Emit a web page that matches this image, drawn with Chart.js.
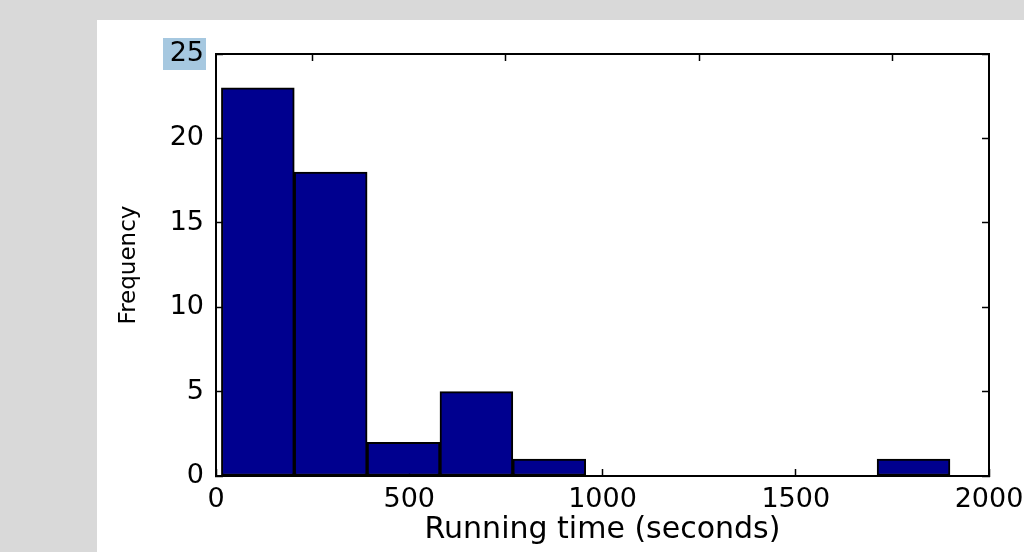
<!DOCTYPE html>
<html>
<head>
<meta charset="utf-8">
<script src="https://cdn.jsdelivr.net/npm/chart.js@4.4.0/dist/chart.umd.min.js"></script>
<style>
  html, body { margin: 0; padding: 0; width: 1024px; height: 552px; overflow: hidden; background: #d9d9d9; }
  #panel { position: absolute; left: 97px; top: 20px; right: 0; bottom: 0; background: #fff; }
  #histChart { position: absolute; left: 0; top: 0; }
</style>
</head>
<body>
<div id="panel"></div>
<canvas id="histChart" width="1024" height="552"></canvas>
<script>
// histogram bins (seconds) and counts
const binEdges = [14, 202.5, 391, 579.5, 768, 956.5, 1145, 1333.5, 1522, 1710.5, 1899];
const binCounts = [23, 18, 2, 5, 1, 0, 0, 0, 0, 1];
const xTicks = [0, 500, 1000, 1500, 2000];
const yTicks = [0, 5, 10, 15, 20, 25];

const points = binCounts.map((c, i) => ({ x: (binEdges[i] + binEdges[i + 1]) / 2, y: c }));

Chart.defaults.font.family = 'DejaVu Sans';
Chart.defaults.color = '#000';

// frame ticks pointing into the plot, no grid lines
const frameGrid = {
    drawOnChartArea: false,
    drawTicks: true,
    tickLength: -7,
    tickWidth: 1.5,
    tickColor: '#000'
};
const frameBorder = { display: true, color: '#000', width: 2 };
const plainLabel = v => String(v);

// the "25" label is shown selected in the reference
const highlightPlugin = {
    id: 'highlight',
    beforeDraw(chart) {
        const y = chart.scales.y.getPixelForValue(yTicks[yTicks.length - 1]);
        const left = chart.chartArea.left;
        const ctx = chart.ctx;
        ctx.save();
        ctx.fillStyle = '#a6c8e0';
        ctx.fillRect(left - 53, y - 16, 43, 32);
        ctx.restore();
    }
};

const ctx = document.getElementById('histChart').getContext('2d');
const histChart = new Chart(ctx, {
    type: 'bar',
    data: {
        datasets: [{
            data: points,
            backgroundColor: '#00008f',
            borderColor: '#000',
            borderWidth: 2,
            borderSkipped: false,
            barPercentage: 1,
            categoryPercentage: 1,
            xAxisID: 'x',
            yAxisID: 'y'
        }]
    },
    options: {
        responsive: false,
        animation: false,
        devicePixelRatio: 1,
        layout: { padding: { left: 97, right: 35, top: 54, bottom: 0 } },
        plugins: { legend: { display: false }, tooltip: { enabled: false } },
        scales: {
            x: {
                type: 'linear',
                position: 'bottom',
                offset: false,
                min: 0,
                max: 2000,
                afterBuildTicks: s => { s.ticks = xTicks.map(v => ({ value: v })); },
                afterFit: s => { s.height = 76; s.paddingLeft = 0; s.paddingRight = 0; },
                grid: { ...frameGrid, offset: false },
                border: frameBorder,
                ticks: { font: { size: 27 }, padding: 15, maxRotation: 0, callback: plainLabel },
                title: {
                    display: true,
                    text: 'Running time (seconds)',
                    font: { size: 30, lineHeight: 1 },
                    padding: { top: 0, bottom: 7 }
                }
            },
            x2: {
                type: 'linear',
                position: 'top',
                offset: false,
                min: 0,
                max: 2000,
                afterBuildTicks: s => { s.ticks = xTicks.map(v => ({ value: v })); },
                afterFit: s => { s.height = 0; s.paddingLeft = 0; s.paddingRight = 0; },
                grid: frameGrid,
                border: frameBorder,
                ticks: { display: false }
            },
            y: {
                type: 'linear',
                position: 'left',
                min: 0,
                max: 25,
                afterBuildTicks: s => { s.ticks = yTicks.map(v => ({ value: v })); },
                afterFit: s => { s.width = 119; },
                grid: frameGrid,
                border: frameBorder,
                ticks: { font: { size: 27 }, padding: 19, callback: plainLabel },
                title: {
                    display: true,
                    text: 'Frequency',
                    font: { size: 23, lineHeight: 1 },
                    padding: { top: 21, bottom: 0 }
                }
            },
            y2: {
                type: 'linear',
                position: 'right',
                min: 0,
                max: 25,
                afterBuildTicks: s => { s.ticks = yTicks.map(v => ({ value: v })); },
                afterFit: s => { s.width = 0; },
                grid: frameGrid,
                border: frameBorder,
                ticks: { display: false }
            }
        }
    },
    plugins: [highlightPlugin]
});
</script>
</body>
</html>
